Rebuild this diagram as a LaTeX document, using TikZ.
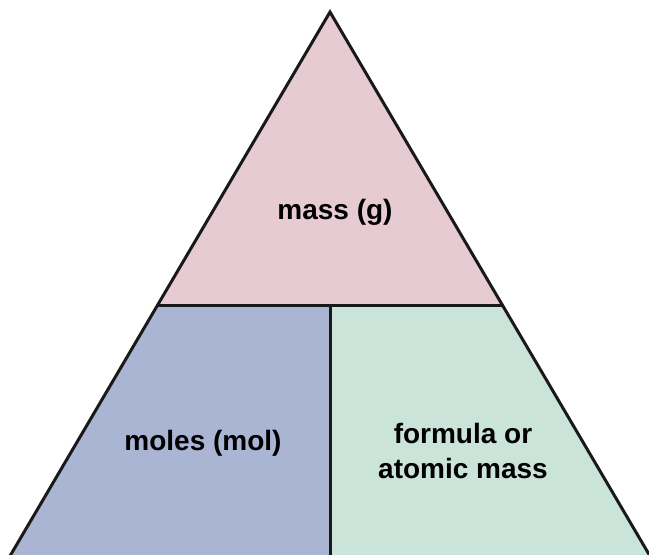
\documentclass[tikz,border=0pt]{standalone}
\usepackage{fontspec}
\setmainfont{Liberation Sans}
\definecolor{topc}{RGB}{231,203,211}
\definecolor{leftc}{RGB}{170,180,211}
\definecolor{rightc}{RGB}{202,228,218}
\definecolor{edgec}{RGB}{25,25,25}
\tikzset{
  edge/.style={draw=edgec,line width=3pt,line join=miter},
  lbl/.style={font=\fontsize{28}{35}\selectfont\bfseries,align=center,text=black,inner sep=0pt}
}
\begin{document}
\begin{tikzpicture}[x=1pt,y=-1pt]
\useasboundingbox (0,0) rectangle (649,555);
\coordinate (A) at (330,12);
\coordinate (L) at (10,556);
\coordinate (R) at (650,556);
\coordinate (ML) at (157.6,305);
\coordinate (MR) at (502.4,305);
\coordinate (MC) at (330,305);
\coordinate (BC) at (330,556);
\fill[topc] (A) -- (MR) -- (ML) -- cycle;
\fill[leftc] (ML) -- (MC) -- (BC) -- (L) -- cycle;
\fill[rightc] (MC) -- (MR) -- (R) -- (BC) -- cycle;
\draw[edge] (L) -- (A) -- (R);
\draw[edge] (ML) -- (MR);
\draw[edge] (MC) -- (BC);
\node[lbl] (mass) at (335,212) {mass (g)};
\node[lbl] (moles) at (203,443) {moles (mol)};
\node[lbl] (fm) at (463,451) {formula or\\atomic mass};
\end{tikzpicture}
\end{document}
